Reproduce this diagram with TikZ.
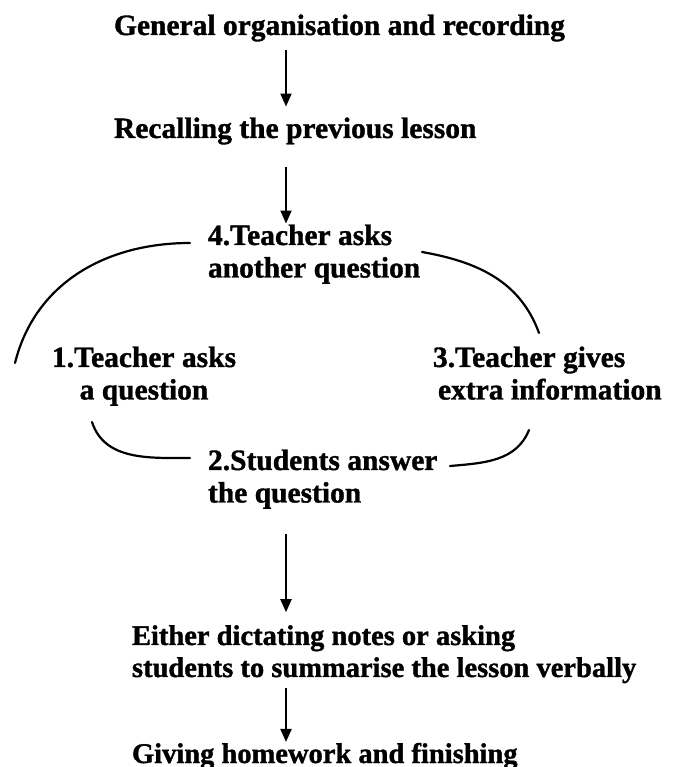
\documentclass[tikz,border=0pt]{standalone}
\usepackage{fontspec}
\setmainfont{Liberation Serif}[BoldFeatures={FakeBold=1.2}]
\usetikzlibrary{arrows.meta}

\begin{document}
\begin{tikzpicture}[x=1pt, y=1pt, line width=2pt,
        txt/.style = {inner sep=0pt, font=\fontsize{29.5}{32.5}\selectfont\bfseries},
        small/.style = {inner sep=0pt, font=\fontsize{28.5}{32}\selectfont\bfseries},
        flow/.style = {-{Triangle[length=13pt,width=11pt]}},
        link/.style = {line width=2.2pt, line cap=round}]
    \useasboundingbox (0,0) rectangle (675,767);
    \coordinate (spine) at (286,0);
    % the straight part of the lesson
    \node[txt, anchor=base west] (gen) at (113,732) {General organisation and recording};
    \node[txt, anchor=base west] (rec) at (113,629) {Recalling the previous lesson};
    % the question cycle (base is the last line)
    \node[txt, anchor=base west, align=left] (q4) at (207,489.5) {4.Teacher asks\\another question};
    \node[txt, anchor=base, align=center] (q1) at (144,367.5) {1.Teacher asks\\a question};
    \node[txt, anchor=base west, align=left] (q3) at (432,367.5) {3.Teacher gives\\\hspace*{5pt}extra information};
    \node[txt, anchor=base west, align=left] (q2) at (207,264.5) {2.Students answer\\the question};
    % closing the lesson
    \node[small, anchor=base west, align=left] (sum) at (131,90) {Either dictating notes or asking\\students to summarise the lesson verbally};
    \node[small, anchor=base west] (fin) at (131,4) {Giving homework and finishing};

    \draw[flow, shorten <=8pt, shorten >=10pt] (gen.south -| spine) -- (rec.north -| spine);
    \draw[flow, shorten <=22pt, shorten >=0pt] (rec.south -| spine) -- (q4.north -| spine);
    \draw[link] ([shift={(-17,34.5)}]q4.base west) to[out=180, in=76] ([shift={(-129,36.5)}]q1.base);
    \draw[link] ([shift={(-52,-22.5)}]q1.base) to[out=-72, in=180] ([shift={(-17,44.5)}]q2.base west);
    \draw[link] ([shift={(243,36.5)}]q2.base west) to[out=5, in=-112] ([shift={(97,-30.5)}]q3.base west);
    \draw[link] ([shift={(215,25.5)}]q4.base west) to[out=-10, in=110] ([shift={(107,66.5)}]q3.base west);
    \draw[flow, shorten <=24pt, shorten >=12pt] (q2.south -| spine) -- (sum.north -| spine);
    \draw[flow, shorten <=4pt, shorten >=0pt] (sum.south -| spine) -- (fin.north -| spine);
\end{tikzpicture}
\end{document}
